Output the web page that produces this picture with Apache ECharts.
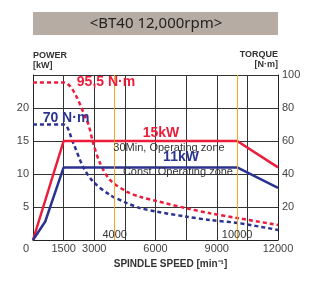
<!DOCTYPE html>
<html>
<head>
<meta charset="utf-8">
<script src="https://cdn.jsdelivr.net/npm/echarts@6/dist/echarts.min.js"></script>
<style>
html, body { margin: 0; padding: 0; background: #fff; }
#chart { width: 318px; height: 283px; }
</style>
</head>
<body>
<div id="chart"></div>
<script>
// power curves [rpm, kW]
var power30min = [[0, 0], [1500, 15], [10000, 15], [12000, 11]];
var powerConst = [[0, 0], [600, 2.8], [1500, 11], [10000, 11], [12000, 7.9]];
// torque curves [rpm, N·m]
var torque30min = [[0, 95.5], [1500, 95.5], [2630, 72.7], [2950, 58.6], [3280, 46.7], [3770, 36.4],
    [4590, 29.3], [5240, 26.2], [6060, 23.6], [7530, 19.2], [8670, 16.2], [10060, 13.2], [12000, 9.1]];
var torqueConst = [[0, 70], [1500, 70], [1970, 58.8], [2450, 44.4], [2950, 35.3], [3770, 27.3],
    [4590, 22.4], [5240, 19.4], [6060, 17.2], [7530, 14.1], [8670, 12.1], [10040, 10.3], [12000, 6.1]];
var markSpeeds = [4000, 10000];
var xLabels = [0, 1500, 3000, 6000, 9000, 12000];

var RED = '#ec1c3a';
var BLUE = '#2b3290';
var ORANGE = '#f5a623';
var FONT = 'Liberation Sans';

var chart = echarts.init(document.getElementById('chart'), null, {renderer: 'canvas'});

var option = {
    animation: false,
    textStyle: {fontFamily: FONT},
    graphic: [
        {type: 'rect', shape: {x: 33, y: 12, width: 245, height: 23}, style: {fill: '#b7aca4'}},
        {type: 'text', x: 156, y: 24, style: {text: '<BT40 12,000rpm>', fontFamily: 'Noto Sans', fontSize: 15,
            fill: '#222', align: 'center', verticalAlign: 'middle'}}
    ],
    grid: {left: 33, right: 40, top: 75, bottom: 43, containLabel: false},
    xAxis: {
        type: 'value', min: 0, max: 12000, interval: 1500,
        axisLine: {lineStyle: {color: '#222', width: 1}},
        axisTick: {show: false},
        splitLine: {lineStyle: {color: '#333', width: 1}},
        axisLabel: {
            color: '#444', fontSize: 11, margin: 3,
            formatter: function (v) {
                if (v === 0) return '{z|0}';
                return xLabels.indexOf(v) >= 0 ? String(v) : '';
            },
            rich: {z: {fontSize: 11, color: '#444', padding: [0, 14, 0, 0]}}
        },
        name: 'SPINDLE SPEED [min\u207B\u00B9]', nameLocation: 'middle', nameGap: 17,
        nameTextStyle: {fontSize: 10, fontWeight: 'bold', color: '#333', padding: [0, 0, 0, 30]}
    },
    yAxis: [{
        type: 'value', min: 0, max: 25, interval: 5,
        axisLine: {show: true, lineStyle: {color: '#222'}},
        axisTick: {show: false},
        splitLine: {lineStyle: {color: '#333', width: 1}},
        axisLabel: {color: '#444', fontSize: 11, margin: 4,
            formatter: function (v) { return (v === 0 || v === 25) ? '' : String(v); }},
        name: 'POWER\n[kW]', nameLocation: 'end', nameGap: 4,
        nameTextStyle: {fontSize: 9, fontWeight: 'bold', color: '#333', align: 'left', verticalAlign: 'bottom', lineHeight: 10}
    }, {
        type: 'value', min: 0, max: 100, interval: 20,
        axisLine: {show: true, lineStyle: {color: '#222'}},
        axisTick: {show: false},
        splitLine: {show: false},
        axisLabel: {color: '#444', fontSize: 11, margin: 4,
            formatter: function (v) { return v === 0 ? '' : String(v); }},
        name: 'TORQUE\n[N\u00B7m]', nameLocation: 'end', nameGap: 4,
        nameTextStyle: {fontSize: 9, fontWeight: 'bold', color: '#333', align: 'right', verticalAlign: 'bottom', lineHeight: 10}
    }],
    series: [{
        name: '30min power', type: 'line', data: power30min, yAxisIndex: 0,
        symbol: 'none', lineStyle: {color: RED, width: 2.5}, z: 4,
        markPoint: {
            symbolSize: 0,
            data: [
                {coord: [6270, 16.2], label: {show: true, formatter: '15kW', color: RED, fontSize: 14, fontWeight: 'bold'}},
                {coord: [6660, 13.9], label: {show: true, formatter: '30Min, Operating zone', color: '#333', fontSize: 11}}
            ]
        }
    }, {
        name: 'const power', type: 'line', data: powerConst, yAxisIndex: 0,
        symbol: 'none', lineStyle: {color: BLUE, width: 2.5}, z: 4,
        markPoint: {
            symbolSize: 0,
            data: [
                {coord: [7250, 12.6], label: {show: true, formatter: '11kW', color: BLUE, fontSize: 14, fontWeight: 'bold'}},
                {coord: [7100, 10.35], label: {show: true, formatter: 'Const. Operating zone', color: '#333', fontSize: 11}},
                {coord: [markSpeeds[0], 0.8], label: {show: true, formatter: String(markSpeeds[0]), color: '#333', fontSize: 11}},
                {coord: [markSpeeds[1], 0.8], label: {show: true, formatter: String(markSpeeds[1]), color: '#333', fontSize: 11}}
            ]
        },
        markLine: {
            symbol: 'none', silent: true, label: {show: false},
            lineStyle: {color: ORANGE, width: 1, type: 'solid'},
            data: markSpeeds.map(function (s) { return {xAxis: s}; })
        }
    }, {
        name: '30min torque', type: 'line', data: torque30min, yAxisIndex: 1,
        symbol: 'none', smooth: 0.3, z: 3,
        lineStyle: {color: RED, width: 2.5, type: [4, 3]},
        markPoint: {
            symbolSize: 0,
            data: [{coord: [3576, 95.5], label: {show: true, formatter: '95,5 N\u00B7m', color: RED, fontSize: 14, fontWeight: 'bold'}}]
        }
    }, {
        name: 'const torque', type: 'line', data: torqueConst, yAxisIndex: 1,
        symbol: 'none', smooth: 0.3, z: 3,
        lineStyle: {color: BLUE, width: 2.5, type: [4, 3]},
        markPoint: {
            symbolSize: 0,
            data: [{coord: [1616, 73.9], label: {show: true, formatter: '70 N\u00B7m', color: BLUE, fontSize: 14, fontWeight: 'bold'}}]
        }
    }]
};
chart.setOption(option);
</script>
</body>
</html>
